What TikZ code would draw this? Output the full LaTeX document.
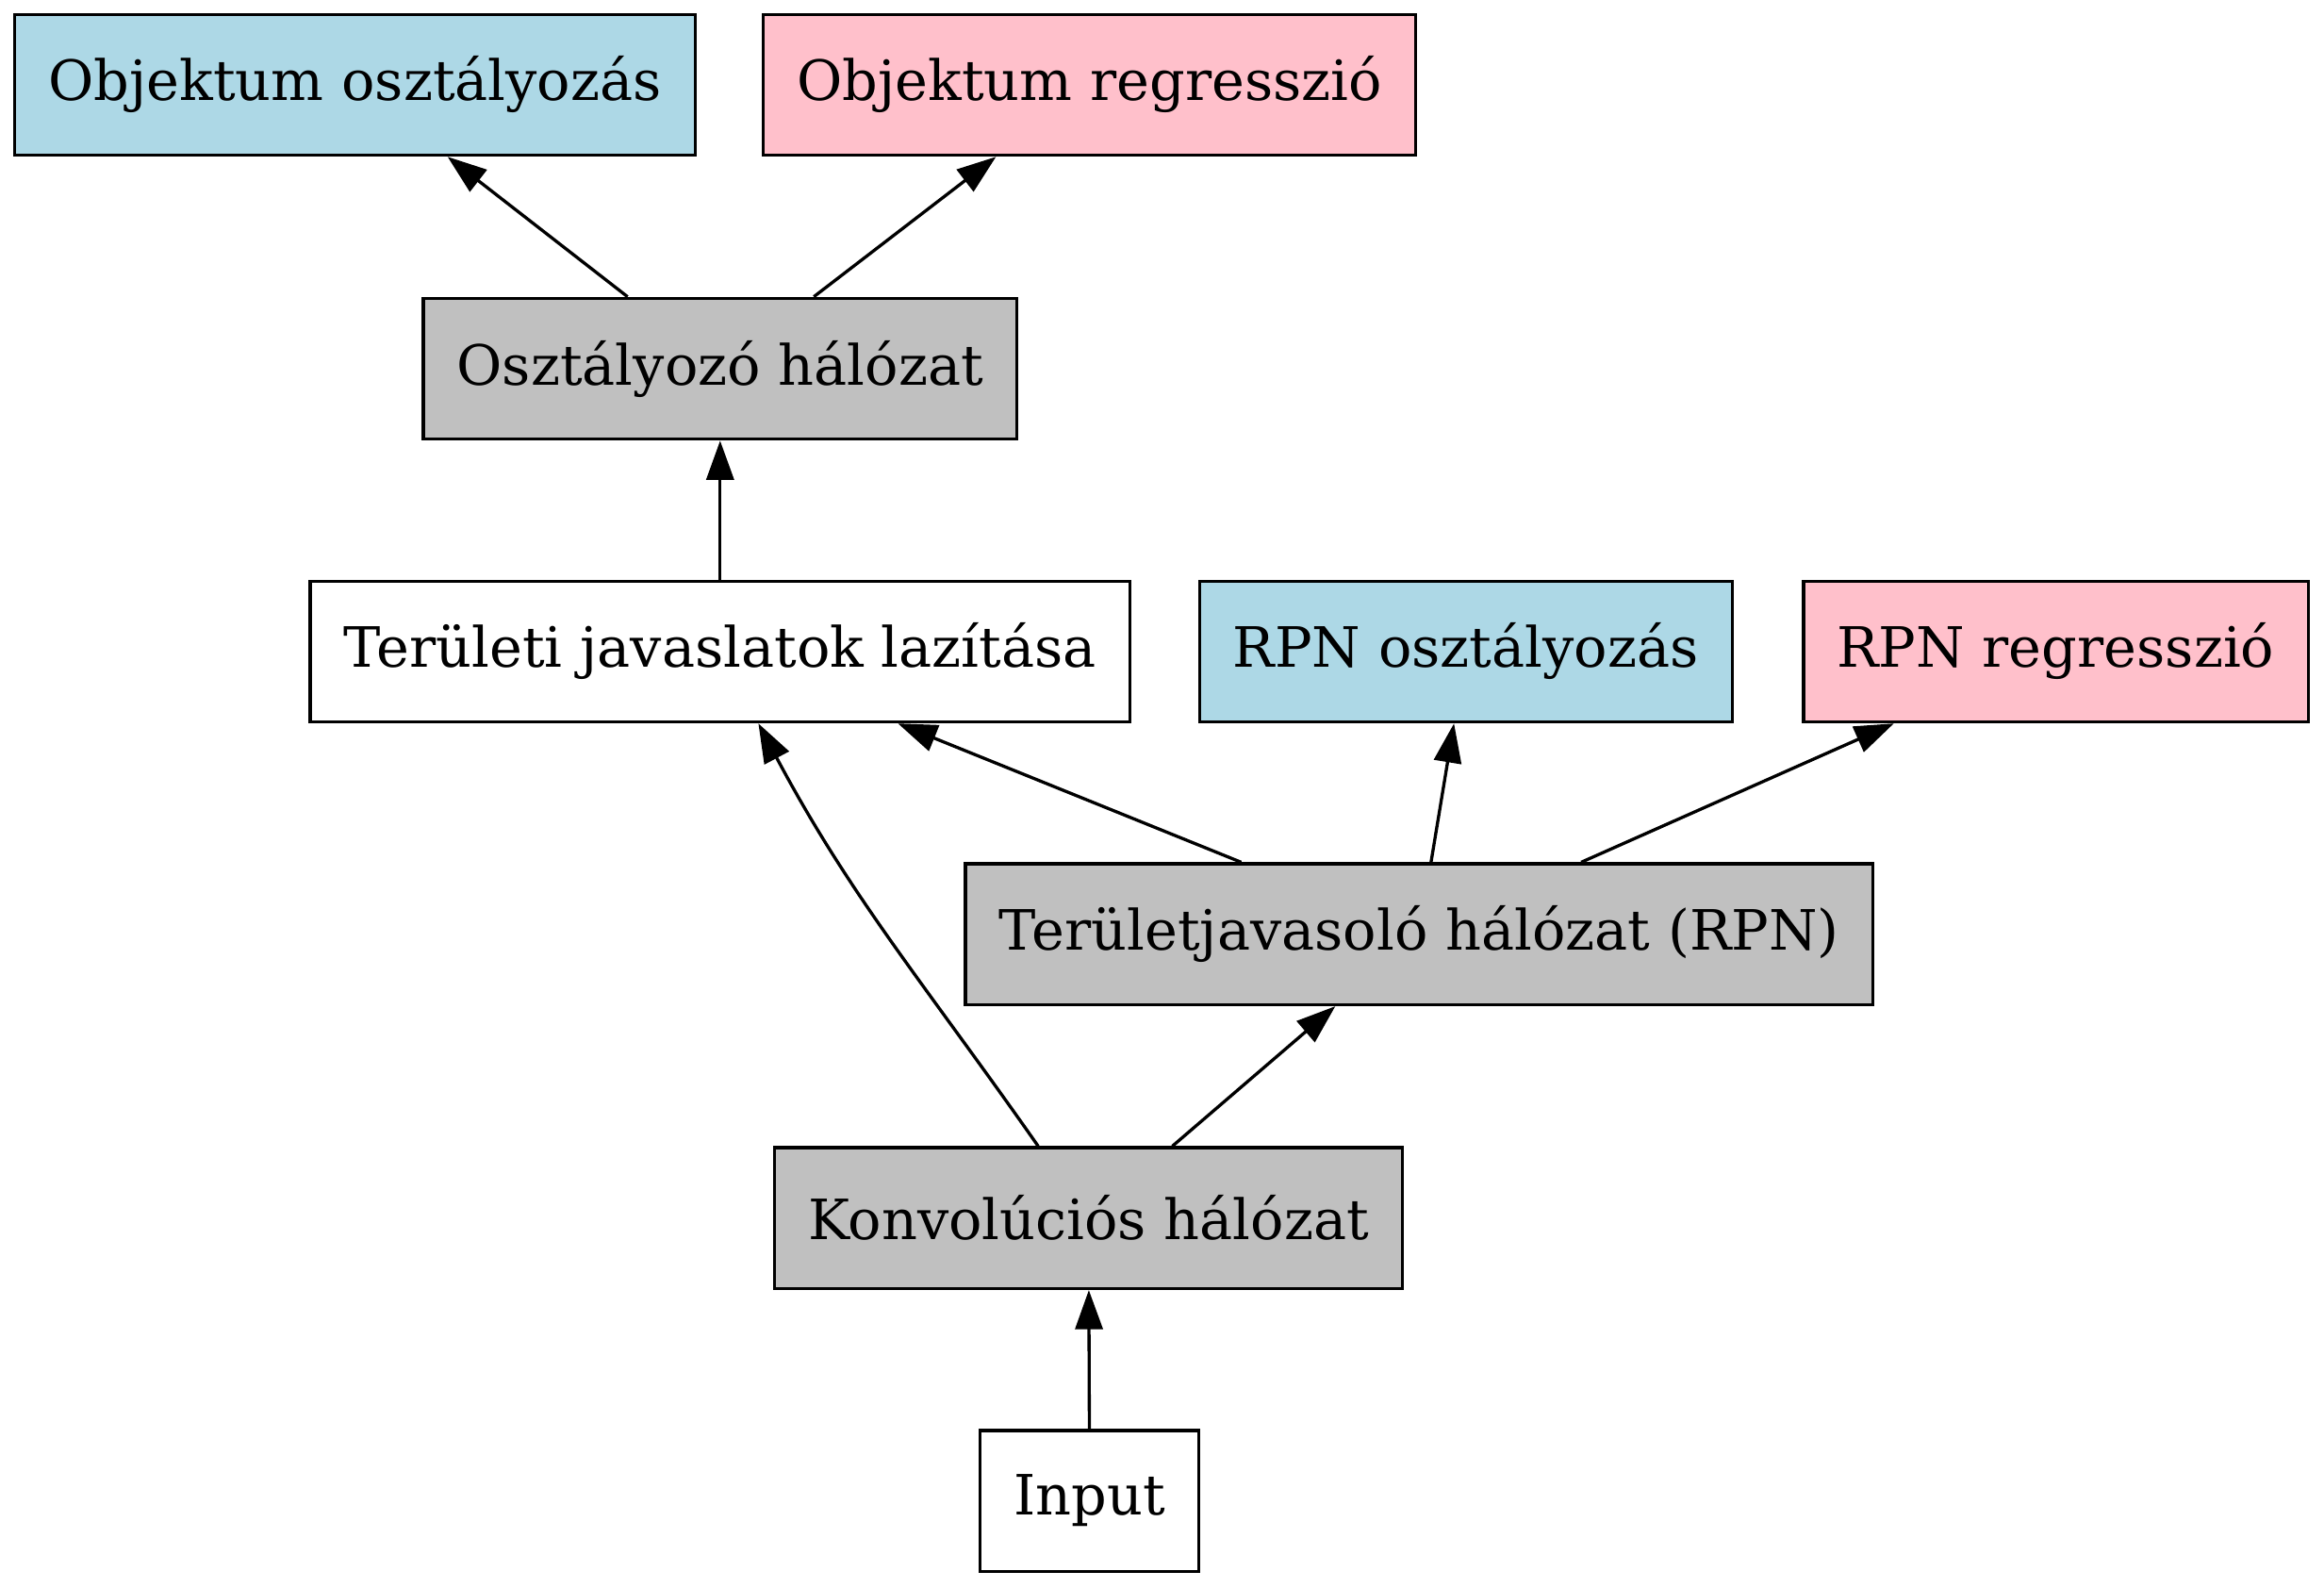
\documentclass[tikz,border=0pt]{standalone}
\usepackage{fontspec}
\setmainfont{DejaVu Serif}
\usepackage{tikz}
\usetikzlibrary{arrows.meta}
\definecolor{kek}{HTML}{ADD8E6}
\definecolor{rozsa}{HTML}{FFC0CB}
\definecolor{szurke}{HTML}{C0C0C0}
\tikzstyle{doboz}=[rectangle, draw=black, line width=0.8pt, inner xsep=8.6pt, minimum width=55pt, minimum height=36pt, font=\fontsize{14.2}{17}\selectfont]
\tikzstyle{nyil}=[line width=0.8pt, -{Triangle[length=10pt,width=7pt]}]

\begin{document}
\begin{tikzpicture}
\useasboundingbox (0,0) rectangle (20.88,14.262);
\node[doboz, fill=kek] (obj_o) at (3.19,13.50) {Objektum osztályozás};
\node[doboz, fill=rozsa] (obj_r) at (9.79,13.50) {Objektum regresszió};
\node[doboz, fill=szurke] (oszt) at (6.47,10.95) {Osztályozó hálózat};
\node[doboz, fill=white] (ter) at (6.47,8.41) {Területi javaslatok lazítása};
\node[doboz, fill=kek] (rpn_o) at (13.17,8.41) {RPN osztályozás};
\node[doboz, fill=rozsa] (rpn_r) at (18.47,8.41) {RPN regresszió};
\node[doboz, fill=szurke] (rpn) at (12.75,5.87) {Területjavasoló hálózat (RPN)};
\node[doboz, fill=szurke] (konv) at (9.78,3.32) {Konvolúciós hálózat};
\node[doboz, fill=white] (inp) at (9.79,0.78) {Input};

\draw[nyil] (inp)--(konv);
\draw[nyil] (konv)--(rpn);
\draw[nyil] (konv) to[out=125, in=-62] (ter);
\draw[nyil] (rpn)--(ter);
\draw[nyil] (rpn)--(rpn_o);
\draw[nyil] (rpn)--(rpn_r);
\draw[nyil] (ter)--(oszt);
\draw[nyil] (oszt)--(obj_o);
\draw[nyil] (oszt)--(obj_r);
\end{tikzpicture}
\end{document}
